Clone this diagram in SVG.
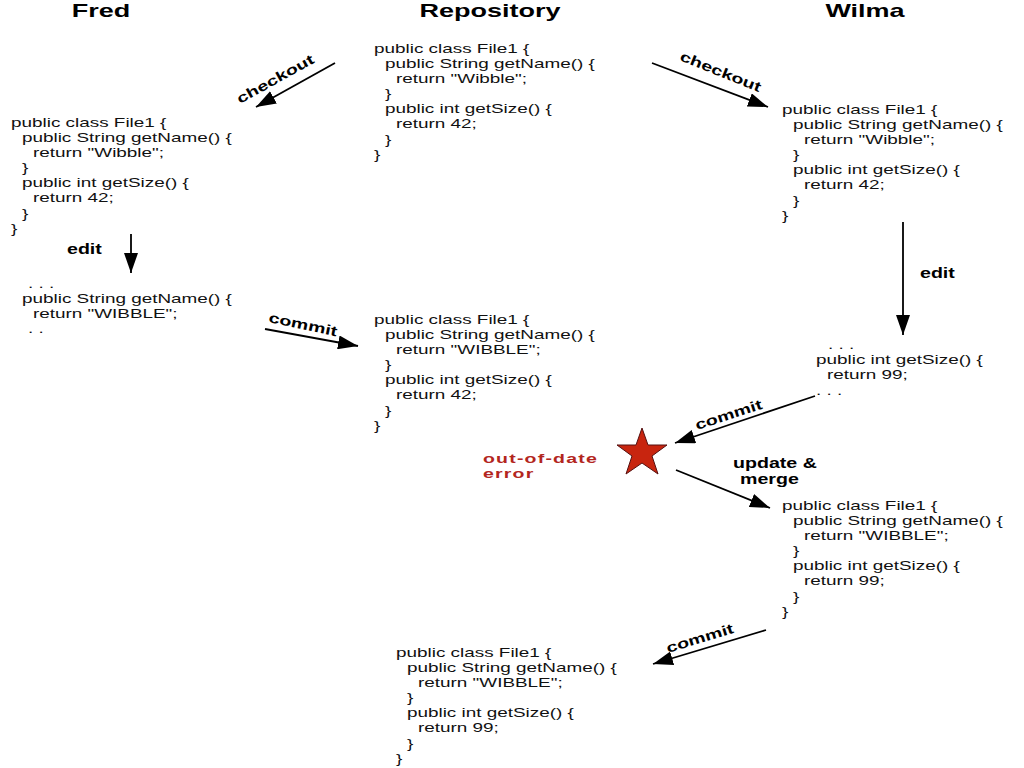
<svg xmlns="http://www.w3.org/2000/svg" width="1024" height="768" viewBox="0 0 1024 768">
<defs>
<marker id="a" viewBox="0 0 20 14" refX="20" refY="7" markerWidth="20" markerHeight="14" orient="auto" markerUnits="userSpaceOnUse"><path d="M0,0 L20,7 L0,14 z" fill="#000"/></marker>
</defs>
<style>
.t{font-family:"Liberation Sans",Arial,sans-serif;font-weight:bold;font-size:18px;text-anchor:middle}
.c{font-family:"Liberation Sans",Arial,sans-serif;font-size:12.6px;fill:#111}
.l{font-family:"Liberation Sans",Arial,sans-serif;font-weight:bold;font-size:14px}
.e{font-family:"Liberation Sans",Arial,sans-serif;font-weight:bold;font-size:13px;fill:#b3261e;letter-spacing:0.8px}
line{stroke:#000;stroke-width:1.8;marker-end:url(#a)}
</style>
<rect width="1024" height="768" fill="#fff"/>
<g id="titles">
<text class="t" transform="translate(101,17) scale(1.5,1)">Fred</text>
<text class="t" transform="translate(490,17) scale(1.5,1)">Repository</text>
<text class="t" transform="translate(865,17) scale(1.5,1)">Wilma</text>
</g>
<g id="repo1" class="c" transform="translate(374,0) scale(1.5,1)">
<text x="0" y="53">public class File1 {</text>
<text x="7.3" y="68">public String getName() {</text>
<text x="14.7" y="83">return "Wibble";</text>
<text x="7.3" y="98">}</text>
<text x="7.3" y="113">public int getSize() {</text>
<text x="14.7" y="128">return 42;</text>
<text x="7.3" y="144">}</text>
<text x="0" y="159">}</text>
</g>
<g id="fred1" class="c" transform="translate(11,0) scale(1.5,1)">
<text x="0" y="127">public class File1 {</text>
<text x="7.3" y="142">public String getName() {</text>
<text x="14.7" y="157">return "Wibble";</text>
<text x="7.3" y="172">}</text>
<text x="7.3" y="187">public int getSize() {</text>
<text x="14.7" y="202">return 42;</text>
<text x="7.3" y="218">}</text>
<text x="0" y="233">}</text>
</g>
<g id="wilma1" class="c" transform="translate(782,0) scale(1.5,1)">
<text x="0" y="114">public class File1 {</text>
<text x="7.3" y="129">public String getName() {</text>
<text x="14.7" y="144">return "Wibble";</text>
<text x="7.3" y="159">}</text>
<text x="7.3" y="174">public int getSize() {</text>
<text x="14.7" y="189">return 42;</text>
<text x="7.3" y="205">}</text>
<text x="0" y="220">}</text>
</g>
<g id="fred2" class="c" transform="translate(22,0) scale(1.5,1)">
<text x="4" y="288">. . .</text>
<text x="0" y="303">public String getName() {</text>
<text x="7.3" y="318">return "WIBBLE";</text>
<text x="4" y="333">. .</text>
</g>
<g id="repo2" class="c" transform="translate(374,0) scale(1.5,1)">
<text x="0" y="324">public class File1 {</text>
<text x="7.3" y="339">public String getName() {</text>
<text x="14.7" y="354">return "WIBBLE";</text>
<text x="7.3" y="369">}</text>
<text x="7.3" y="384">public int getSize() {</text>
<text x="14.7" y="399">return 42;</text>
<text x="7.3" y="415">}</text>
<text x="0" y="430">}</text>
</g>
<g id="wilma2" class="c" transform="translate(816,0) scale(1.5,1)">
<text x="8" y="349">. . .</text>
<text x="0" y="364">public int getSize() {</text>
<text x="7.3" y="379">return 99;</text>
<text x="0" y="395">. . .</text>
</g>
<g id="wilma3" class="c" transform="translate(782,0) scale(1.5,1)">
<text x="0" y="510">public class File1 {</text>
<text x="7.3" y="525">public String getName() {</text>
<text x="14.7" y="540">return "WIBBLE";</text>
<text x="7.3" y="555">}</text>
<text x="7.3" y="570">public int getSize() {</text>
<text x="14.7" y="585">return 99;</text>
<text x="7.3" y="601">}</text>
<text x="0" y="616">}</text>
</g>
<g id="final" class="c" transform="translate(396,0) scale(1.5,1)">
<text x="0" y="657">public class File1 {</text>
<text x="7.3" y="672">public String getName() {</text>
<text x="14.7" y="687">return "WIBBLE";</text>
<text x="7.3" y="702">}</text>
<text x="7.3" y="717">public int getSize() {</text>
<text x="14.7" y="732">return 99;</text>
<text x="7.3" y="748">}</text>
<text x="0" y="763">}</text>
</g>
<g id="error">
<polygon points="642,428 648,445 667,445 652,456 658,474 642,463 626,474 632,456 617,445 636,445" fill="#c8250f" stroke="#511" stroke-width="1"/>
<g class="e" transform="translate(483,0) scale(1.5,1)">
<text x="0" y="463">out-of-date</text>
<text x="0" y="478">error</text>
</g>
</g>
<g id="connectors">
<line x1="335" y1="63" x2="256" y2="107"/>
<line x1="652" y1="63" x2="768" y2="107"/>
<line x1="131" y1="234" x2="131" y2="273"/>
<line x1="265" y1="329" x2="358" y2="346"/>
<line x1="903" y1="222" x2="903" y2="335"/>
<line x1="815" y1="396" x2="675" y2="443"/>
<line x1="676" y1="470" x2="770" y2="508"/>
<line x1="766" y1="630" x2="653" y2="664"/>
<text class="l" transform="translate(240,104) rotate(-29) scale(1.4,1)">checkout</text>
<text class="l" transform="translate(679,60) rotate(22) scale(1.4,1)">checkout</text>
<text class="l" transform="translate(67,254) scale(1.4,1)">edit</text>
<text class="l" transform="translate(268,322) rotate(12) scale(1.4,1)">commit</text>
<text class="l" transform="translate(920,278) scale(1.4,1)">edit</text>
<text class="l" transform="translate(697,430) rotate(-18) scale(1.4,1)">commit</text>
<text class="l" transform="translate(733,468) scale(1.4,1)">update &amp;</text>
<text class="l" transform="translate(740,484) scale(1.4,1)">merge</text>
<text class="l" transform="translate(668,653) rotate(-17) scale(1.4,1)">commit</text>
</g>
</svg>
